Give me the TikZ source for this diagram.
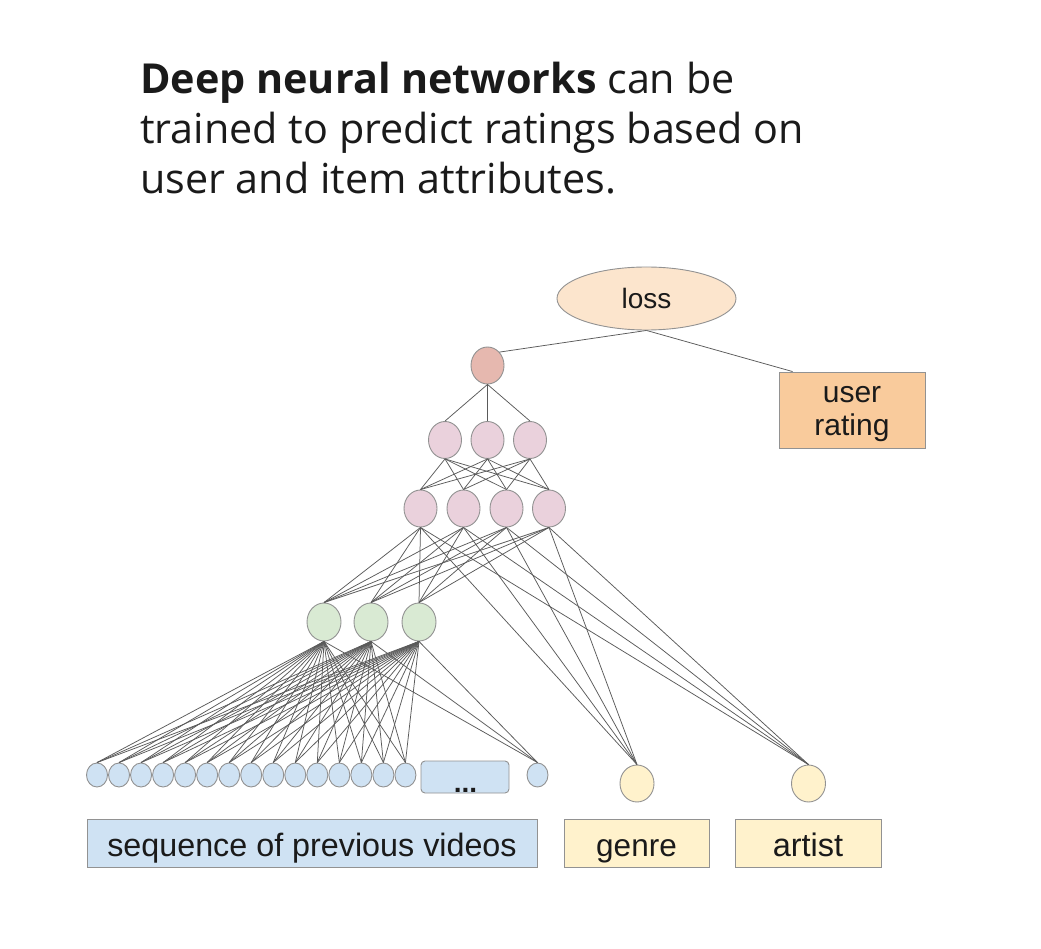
\documentclass[tikz,border=0pt]{standalone}
\usepackage{fontspec}
\setmainfont{Liberation Sans}
\newfontfamily\titlefont{Open Sans}
\usetikzlibrary{shapes.geometric}
\definecolor{losscol}{HTML}{FCE5CD}
\definecolor{outcol}{HTML}{E6B8AF}
\definecolor{pinkcol}{HTML}{EAD1DC}
\definecolor{greencol}{HTML}{D9EAD3}
\definecolor{bluecol}{HTML}{CFE2F3}
\definecolor{yellowcol}{HTML}{FFF2CC}
\definecolor{ratingcol}{HTML}{F9CB9C}
\definecolor{bordergray}{HTML}{929292}
\definecolor{linegray}{HTML}{5A5A5A}
\definecolor{textcol}{HTML}{1A1A1A}
\begin{document}
\begin{tikzpicture}[x=1pt,y=-1pt,
  neuron/.style={ellipse, draw=bordergray, line width=0.9pt, inner sep=0pt, minimum width=33pt, minimum height=37pt},
  smallneuron/.style={ellipse, draw=bordergray, line width=0.9pt, inner sep=0pt, minimum width=21pt, minimum height=24pt, fill=bluecol},
  link/.style={draw=linegray, line width=0.75pt},
  labelbox/.style={rectangle, draw=bordergray, line width=0.9pt, inner sep=0pt, text=textcol,
                   text height=30pt, text depth=4pt, font=\fontsize{31.5}{36}\selectfont},
  titleline/.style={anchor=base west, inner sep=0pt, text=textcol, font=\titlefont\fontsize{41.3}{50}\selectfont}]
\useasboundingbox[fill=white] (0,0) rectangle (1041,949);

% title
\node[titleline] (t1) at (140,94) {\textbf{Deep neural networks} can be};
\node[titleline] (t2) at (140,144) {trained to predict ratings based on};
\node[titleline] (t3) at (140,194) {user and item attributes.};

% loss and rating
\node[ellipse, draw=bordergray, line width=0.9pt, fill=losscol, inner sep=0pt,
      minimum width=179pt, minimum height=63pt, text=textcol, font=\fontsize{28}{32}\selectfont] (loss) at (646.5,298.5) {loss};
\node[rectangle, draw=bordergray, line width=0.9pt, fill=ratingcol, minimum width=146pt, minimum height=76pt,
      label={[name=urtext, align=center, text=textcol, yshift=-4pt, font=\fontsize{30}{33}\selectfont]center:{user\\rating}}] (ur) at (852,410) {};

% network
\node[neuron, fill=outcol] (o) at (487.5,365.5) {};
\node[neuron, fill=pinkcol] (h1a) at (445,440) {};
\node[neuron, fill=pinkcol] (h1b) at (487.5,440) {};
\node[neuron, fill=pinkcol] (h1c) at (530,440) {};
\node[neuron, fill=pinkcol] (h2a) at (420.5,508.5) {};
\node[neuron, fill=pinkcol] (h2b) at (463.5,508.5) {};
\node[neuron, fill=pinkcol] (h2c) at (506.5,508.5) {};
\node[neuron, fill=pinkcol] (h2d) at (549,508.5) {};
\node[neuron, fill=greencol, minimum width=34pt, minimum height=38pt] (ga) at (324,622) {};
\node[neuron, fill=greencol, minimum width=34pt, minimum height=38pt] (gb) at (371,622) {};
\node[neuron, fill=greencol, minimum width=34pt, minimum height=38pt] (gc) at (419,622) {};

% inputs
\foreach \i in {0,...,14} {
  \node[smallneuron] (v\i) at ({97+22.03*\i},775) {};
}
\node[smallneuron] (vlast) at (537.5,775) {};
\node[rectangle, rounded corners=4pt, draw=bordergray, line width=0.9pt, fill=bluecol,
      minimum width=88pt, minimum height=32pt] (dots) at (465,777) {};
\node[anchor=base, inner sep=0pt, text=textcol, font=\bfseries\fontsize{28}{32}\selectfont] (dotstxt) at (465.5,792) {...};
\node[neuron, fill=yellowcol, minimum width=34pt, minimum height=37pt] (genre) at (637,783.5) {};
\node[neuron, fill=yellowcol, minimum width=34pt, minimum height=37pt] (artist) at (808.5,783.5) {};

% label boxes
\node[labelbox, fill=bluecol, minimum width=450pt, minimum height=48pt, font=\fontsize{32.3}{36}\selectfont] (seq) at (312,843) {sequence of previous videos};
\node[labelbox, fill=yellowcol, minimum width=145pt, minimum height=48pt] (genrebox) at (636.5,843) {genre};
\node[labelbox, fill=yellowcol, minimum width=146pt, minimum height=48pt, font=\fontsize{32.5}{36}\selectfont] (artistbox) at (808,843) {artist};

% connectors
\draw[link] (loss.south) -- (o.north east);
\draw[link] (loss.south) -- ([xshift=14pt]ur.north west);
\foreach \a in {a,b,c} {
  \draw[link] (o.south) -- (h1\a.north);
  \foreach \b in {a,b,c,d} {
    \draw[link] (h1\a.south) -- (h2\b.north);
  }
}
\foreach \b in {a,b,c,d} {
  \foreach \g in {a,b,c} {
    \draw[link] (h2\b.south) -- (g\g.north);
  }
  \draw[link] (h2\b.south) -- (genre.north);
  \draw[link] (h2\b.south) -- (artist.north);
}
\foreach \g in {a,b,c} {
  \foreach \i in {0,...,14} {
    \draw[link] (g\g.south) -- (v\i.north);
  }
  \draw[link] (g\g.south) -- (vlast.north);
}
\end{tikzpicture}
\end{document}
